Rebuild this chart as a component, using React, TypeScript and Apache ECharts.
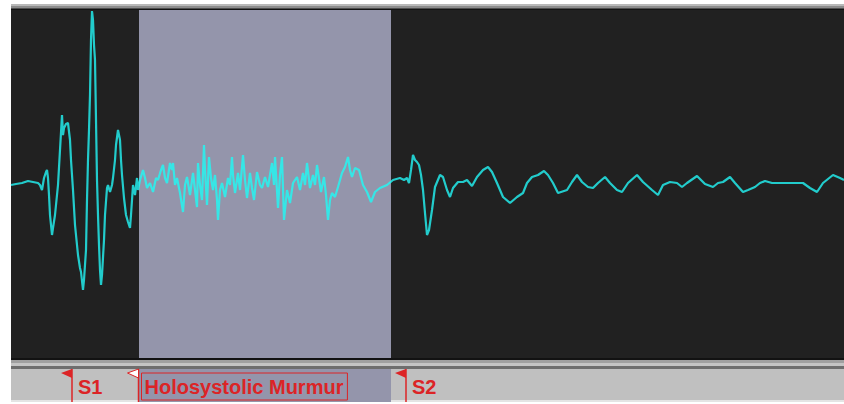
import React, { useEffect, useRef } from "react";
import * as echarts from "echarts";

// Phonocardiogram of one cardiac cycle (833 ms at 72 bpm): [time ms, amplitude]
const s1Segment: [number, number][] = [
  [0, -2], [5, -1], [11, 0], [17, 2], [22, 1], [27, 0], [29, -2], [31, -7], [33, 5], [35, 11],
  [36, 13], [37, 5], [38, -12], [39, -32], [41, -52], [42, -45], [44, -32], [46, -12], [47, -2],
  [49, 33], [51, 68], [52, 48], [53, 55], [55, 59], [57, 60], [59, 43], [60, 23], [62, -7],
  [64, -42], [65, -52], [67, -72], [69, -85], [70, -89], [72, -107], [73, -97], [75, -67],
  [76, -17], [77, 23], [78, 53], [79, 88], [80, 143], [81, 172], [82, 163], [83, 138], [84, 123],
  [85, 63], [86, 3], [87, -32], [88, -62], [89, -87], [90, -102], [91, -92], [93, -57], [94, -32],
  [96, -5], [97, -2], [99, -9], [101, -2], [102, 5], [104, 23], [105, 38], [107, 53], [109, 43],
  [110, 23], [111, 8], [113, -15], [115, -32], [117, -39], [119, -45], [120, -32], [122, -2],
  [124, -12], [126, 5], [127, -7],
];

const murmurSegment: [number, number][] = [
  [129, 3], [132, 13], [134, 5], [136, -5], [139, 0], [142, -9], [145, 5], [147, 3], [150, 13],
  [152, 18], [154, 5], [156, 0], [159, 20], [161, 13], [162, 20], [164, -2], [166, 5], [169, -10],
  [172, -29], [174, -2], [176, 6], [179, -12], [182, 10], [184, -7], [186, -24], [187, 20],
  [189, -2], [191, -17], [193, 38], [194, 13], [196, -22], [198, 26], [200, 5], [202, -7],
  [204, 8], [206, -17], [207, -37], [209, -7], [211, 0], [214, -14], [217, 5], [219, -2],
  [221, 26], [222, 8], [224, -10], [227, 10], [229, -7], [232, 28], [234, 3], [236, -15],
  [239, 10], [241, -5], [243, -17], [246, 11], [249, -2], [251, -5], [254, 6], [257, -4],
  [259, 8], [261, 20], [263, -2], [264, 26], [267, -25], [269, 8], [271, 26], [273, -37],
  [276, -7], [279, -20], [282, 0], [286, 6], [289, -7], [292, 10], [294, -2], [296, 20],
  [299, -5], [302, 8], [304, -2], [306, 18], [310, -9], [313, 6], [315, -12], [317, -37],
  [319, -17], [321, -10], [324, -14], [327, -4], [331, 10], [334, 16], [337, 26], [339, 13],
  [341, 6], [344, 15], [348, 13], [352, -2], [356, -9], [360, -19], [364, -9], [369, -5],
  [376, -2], [382, 3], [389, 5],
];

const s2Segment: [number, number][] = [
  [393, 3], [396, 5], [398, 0], [400, 13], [402, 28], [404, 23], [406, 21], [408, 18], [410, 8],
  [412, -7], [414, -30], [416, -52], [418, -47], [421, -27], [424, -4], [429, 8], [432, 6],
  [436, -7], [439, -14], [442, -5], [447, 1], [452, 1], [456, 3], [461, -3], [466, 6], [472, 13],
  [477, 16], [481, 11], [486, 0], [492, -14], [499, -20], [506, -14], [512, -10], [516, 0],
  [521, 6], [527, 8], [533, 12], [537, 8], [542, 0], [547, -10], [556, -7], [561, 1], [566, 8],
  [571, 1], [577, -4], [582, -5], [587, 0], [594, 6], [599, 0], [606, -7], [611, -9], [617, 0],
  [626, 8], [632, 1], [641, -7], [647, -12], [652, -2], [659, 1], [666, 0], [671, -4], [676, 0],
  [686, 7], [694, -1], [702, -4], [707, 0], [712, 1], [719, 6], [724, 0], [732, -9], [737, -7],
  [744, -4], [749, 0], [754, 2], [761, 0], [772, 0], [782, 0], [792, 0], [799, -5], [806, -9],
  [812, 0], [822, 8], [829, 5], [833, 3],
];

// Annotated events
const markerNames = ["S1", "Holosystolic Murmur", "S2"];
const markerTimes = [61, 128, 395];
const murmurSpan = [128, 380];

const CYCLE_MS = 833;
const RED = "#dc2426";
const SHADE = "#9495ab";
const TRACE = "#22cccc";
const TRACE_BRIGHT = "#36e6e6";
const FONT = '"Liberation Sans", Arial, sans-serif';

export default function App() {
  const ref = useRef<HTMLDivElement>(null);

  useEffect(() => {
    if (!ref.current) return;
    const chart = echarts.init(ref.current, null, { renderer: "svg" });

    const signal = [...s1Segment, ...murmurSegment, ...s2Segment];
    const markerData = markerNames.map((name, i) => ({
      name,
      value: [markerTimes[i], i, name === "Holosystolic Murmur" ? murmurSpan[1] : markerTimes[i]],
    }));

    const renderMarker = (params: any, api: any) => {
      const t = api.value(0);
      const idx = api.value(1);
      const end = api.value(2);
      const cs = params.coordSys;
      const top = cs.y;
      const bottom = cs.y + cs.height;
      const x = api.coord([t, 0])[0];
      const name = markerNames[idx];
      const isMurmur = name === "Holosystolic Murmur";
      const children: any[] = [];
      if (isMurmur) {
        const xEnd = api.coord([end, 0])[0];
        children.push({
          type: "rect",
          shape: { x: x, y: top, width: xEnd - x, height: bottom - top + 2 },
          style: { fill: SHADE },
        });
      }
      const lx = isMurmur ? x - 0.5 : x;
      children.push({
        type: "line",
        shape: { x1: lx, y1: top, x2: lx, y2: bottom + 2 },
        style: { stroke: RED, lineWidth: 1.5 },
      });
      children.push({
        type: "polygon",
        shape: { points: [[lx - 11, top + 4], [lx, top], [lx, top + 9]] },
        style: isMurmur
          ? { fill: "#ffffff", stroke: RED, lineWidth: 1 }
          : { fill: RED },
      });
      children.push({
        type: "text",
        x: isMurmur ? x + 2.5 : x + 6,
        y: (top + bottom) / 2 + 2,
        style: {
          text: name,
          fill: RED,
          font: `bold 20px ${FONT}`,
          verticalAlign: "middle",
          align: "left",
          ...(isMurmur
            ? { borderColor: RED, borderWidth: 1, padding: [4, 4, 3, 3] }
            : {}),
        },
      });
      return { type: "group", children };
    };

    chart.setOption({
      animation: false,
      backgroundColor: "#ffffff",
      grid: [
        {
          left: 11, right: 0, top: 10, height: 348,
          show: true, backgroundColor: "#212121", borderWidth: 0,
        },
        {
          left: 11, right: 0, top: 369, height: 31,
          show: true, backgroundColor: "#c0c0c0", borderWidth: 0,
        },
      ],
      xAxis: [
        { type: "value", gridIndex: 0, min: 0, max: CYCLE_MS, show: false },
        { type: "value", gridIndex: 1, min: 0, max: CYCLE_MS, show: false },
      ],
      yAxis: [
        { type: "value", gridIndex: 0, min: -175, max: 173, show: false },
        { type: "value", gridIndex: 1, min: 0, max: 1, show: false },
      ],
      visualMap: {
        show: false,
        type: "piecewise",
        seriesIndex: 1,
        dimension: 0,
        pieces: [
          { lt: murmurSpan[0], color: TRACE },
          { gte: murmurSpan[0], lte: murmurSpan[1], color: TRACE_BRIGHT },
          { gt: murmurSpan[1], color: TRACE },
        ],
      },
      graphic: [
        { type: "rect", shape: { x: 11, y: 4, width: 833, height: 2 }, style: { fill: "#b8b8b8" } },
        { type: "rect", shape: { x: 11, y: 6, width: 833, height: 2 }, style: { fill: "#8c8c8c" } },
        { type: "rect", shape: { x: 11, y: 8, width: 833, height: 1 }, style: { fill: "#4e4e4e" } },
        { type: "rect", shape: { x: 11, y: 9, width: 833, height: 1 }, style: { fill: "#111111" } },
        { type: "rect", shape: { x: 11, y: 358, width: 833, height: 2 }, style: { fill: "#121212" } },
        { type: "rect", shape: { x: 11, y: 360, width: 833, height: 3 }, style: { fill: "#a0a0a0" } },
        { type: "rect", shape: { x: 11, y: 363, width: 833, height: 3 }, style: { fill: "#c4c4c4" } },
        { type: "rect", shape: { x: 11, y: 366, width: 833, height: 3 }, style: { fill: "#6e6e6e" } },
        { type: "rect", shape: { x: 11, y: 400, width: 833, height: 2 }, style: { fill: "#e4e4e4" }, z: -1 },
      ],
      series: [
        {
          type: "line",
          xAxisIndex: 0,
          yAxisIndex: 0,
          data: [[murmurSpan[0], 0]],
          symbol: "none",
          lineStyle: { opacity: 0 },
          silent: true,
          z: 1,
          markArea: {
            silent: true,
            itemStyle: { color: SHADE, opacity: 1 },
            data: [[{ xAxis: murmurSpan[0] }, { xAxis: murmurSpan[1] }]],
          },
        },
        {
          type: "line",
          xAxisIndex: 0,
          yAxisIndex: 0,
          data: signal,
          symbol: "none",
          smooth: false,
          lineStyle: { width: 2.2 },
          silent: true,
          z: 5,
        },
        {
          type: "custom",
          xAxisIndex: 1,
          yAxisIndex: 1,
          data: markerData,
          renderItem: renderMarker,
          silent: true,
          clip: false,
          z: 5,
        },
      ],
    });

    return () => chart.dispose();
  }, []);

  return (
    <div
      ref={ref}
      style={{ position: "absolute", left: 0, top: 0, width: 844, height: 404 }}
    />
  );
}
